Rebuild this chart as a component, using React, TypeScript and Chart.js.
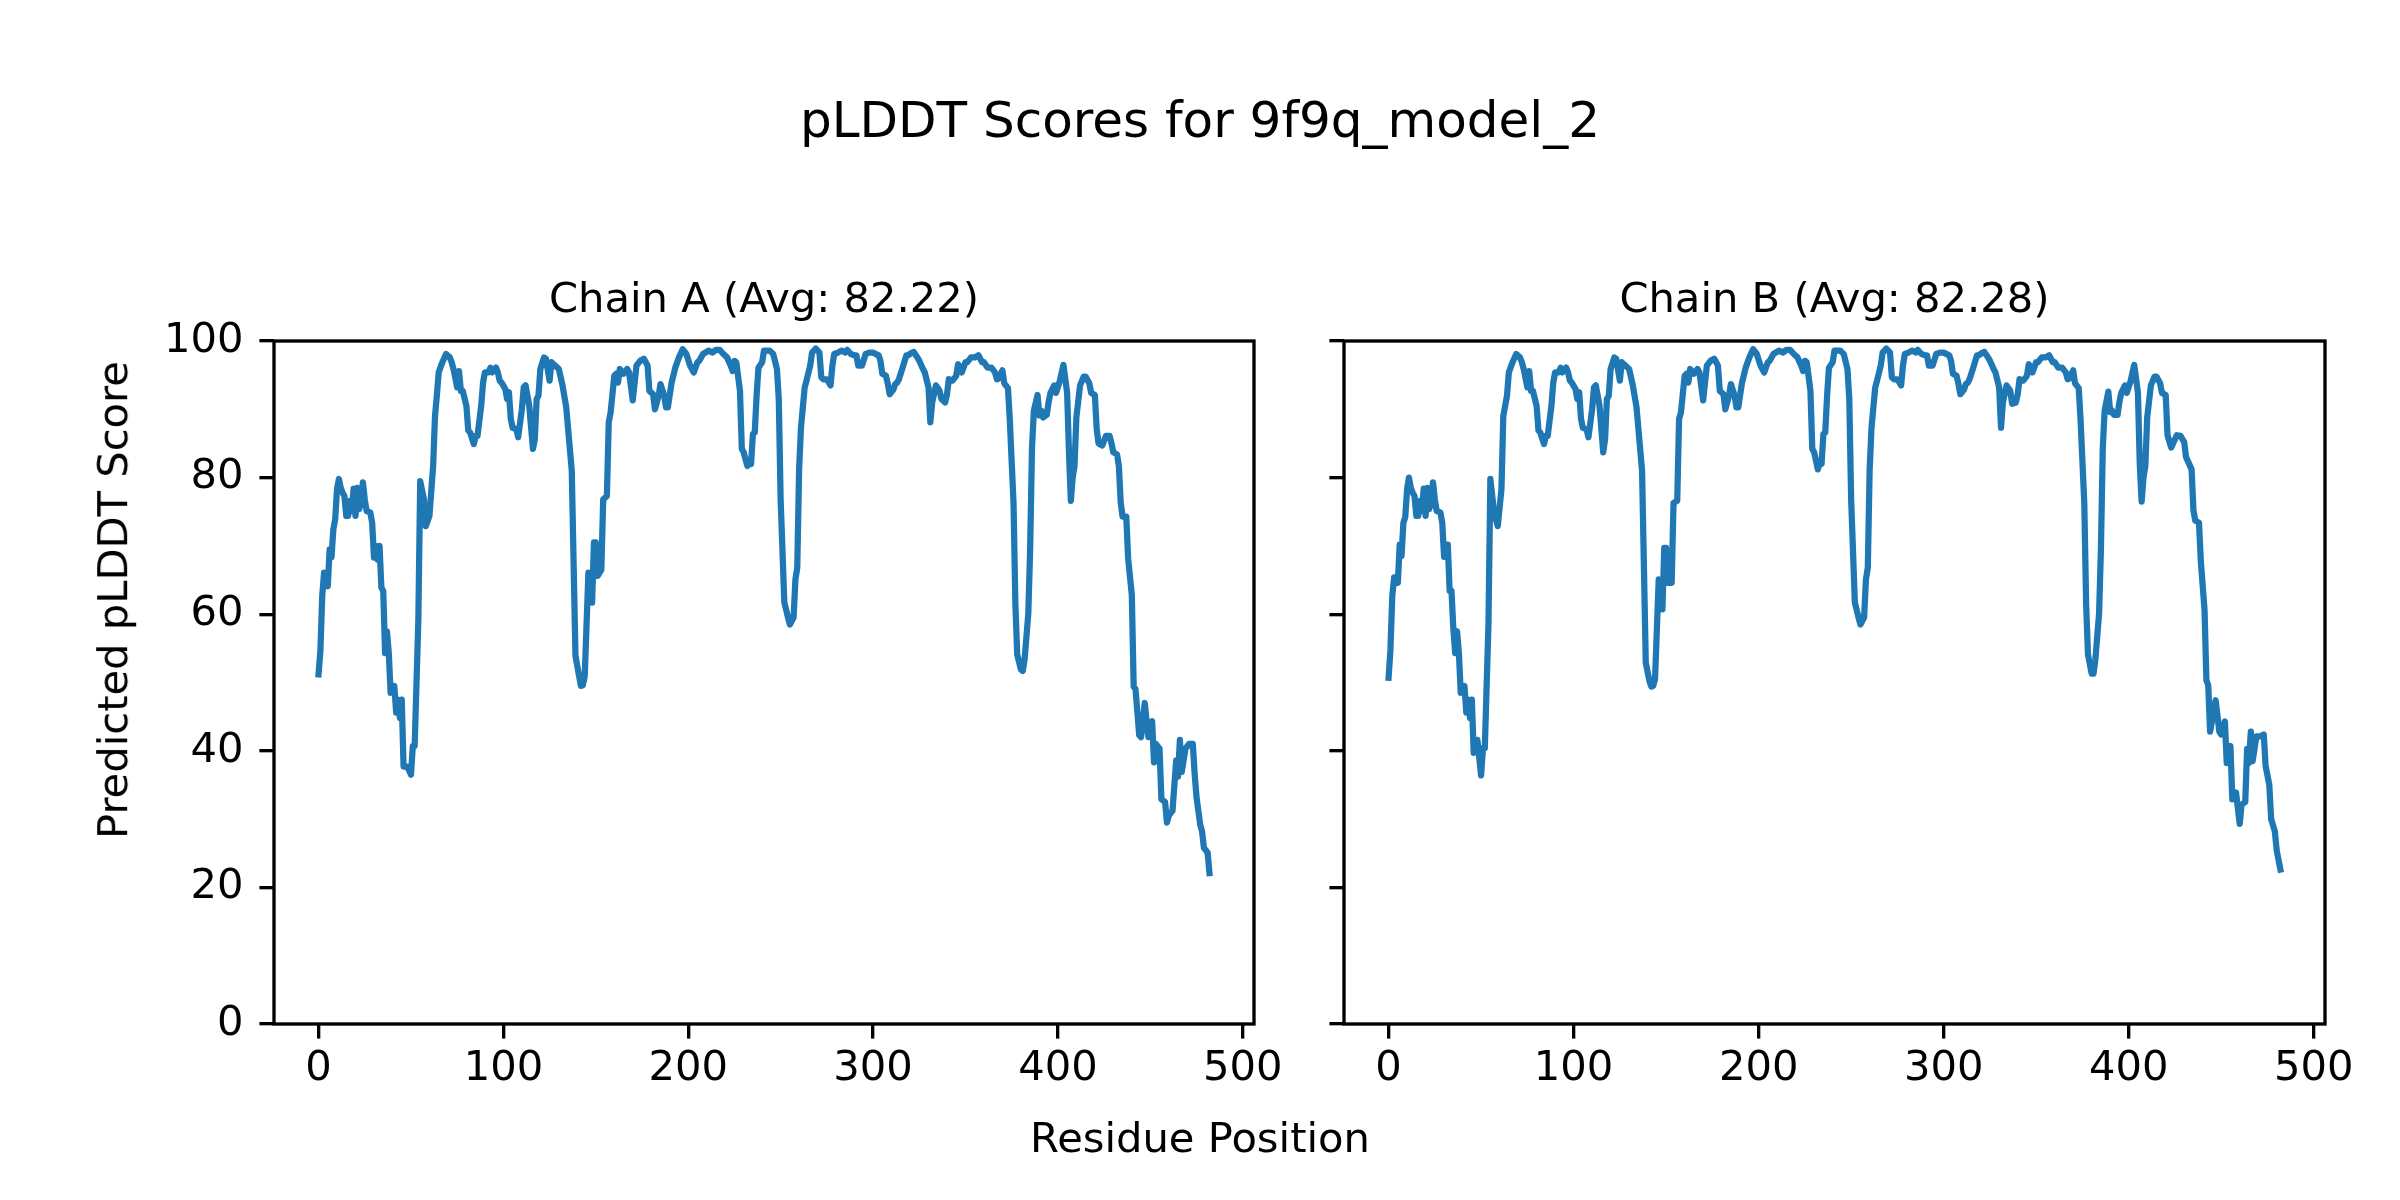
import React, { useEffect, useRef } from "react";
import { Chart, registerables } from "chart.js";

Chart.register(...registerables);

const FIG_TITLE = "pLDDT Scores for 9f9q_model_2";
const X_LABEL = "Residue Position";
const Y_LABEL = "Predicted pLDDT Score";
const CHAIN_TITLES = ["Chain A (Avg: 82.22)", "Chain B (Avg: 82.28)"];
const X_TICKS = [0, 100, 200, 300, 400, 500];
const Y_TICKS = [0, 20, 40, 60, 80, 100];
const X_RANGE = [-24.1, 506.1];
const Y_RANGE = [0, 100];

// [residue position, pLDDT score]
const chainA: [number, number][] = [
  [0, 51.2], [1, 54.6], [2, 62.7], [3, 66.1], [4, 64.5], [5, 64.1], [6, 69.5], [7, 68.3], [8, 72.4], [9, 73.9],
  [10, 78.3], [11, 79.8], [12, 78.5], [13, 77.8], [14, 77.3], [15, 74.4], [16, 74.4], [17, 76.6], [18, 75.1], [19, 78.4],
  [20, 74.4], [21, 78.5], [22, 75.4], [23, 76.6], [24, 79.3], [25, 76.8], [26, 75.1], [28, 74.9], [29, 73.4], [30, 68.3],
  [31, 70.0], [32, 68.0], [33, 70.0], [34, 63.9], [35, 63.4], [36, 54.3], [37, 57.5], [38, 54.3], [39, 48.5], [41, 49.5],
  [42, 45.6], [43, 47.5], [44, 44.8], [45, 47.5], [46, 37.7], [48, 37.7], [50, 36.5], [51, 40.7], [52, 40.7], [54, 59.2],
  [55, 79.5], [57, 76.8], [58, 72.9], [60, 74.4], [62, 81.7], [63, 89.0], [64, 92.0], [65, 95.4], [67, 96.9], [69, 98.1],
  [71, 97.6], [72, 96.9], [73, 95.9], [75, 93.2], [76, 95.6], [77, 92.7], [78, 92.7], [80, 90.5], [81, 86.9], [82, 86.6],
  [84, 84.9], [85, 86.1], [86, 86.1], [88, 90.5], [89, 93.9], [90, 95.4], [92, 95.4], [93, 96.1], [94, 95.4], [96, 96.1],
  [97, 95.4], [98, 94.2], [99, 93.9], [101, 93.0], [102, 91.5], [103, 92.5], [104, 88.6], [105, 87.3], [107, 87.1], [108, 85.9],
  [110, 90.0], [111, 93.2], [112, 93.5], [114, 90.5], [116, 84.2], [117, 85.6], [118, 91.5], [119, 92.0], [120, 95.9], [122, 97.6],
  [123, 97.4], [125, 94.2], [126, 96.9], [128, 96.4], [130, 95.9], [132, 93.5], [134, 90.3], [137, 81.0], [139, 53.9], [141, 50.9],
  [142, 49.5], [143, 49.6], [144, 50.9], [146, 66.1], [148, 61.7], [149, 70.5], [150, 70.5], [151, 65.6], [153, 66.5], [154, 76.8],
  [156, 77.3], [157, 88.1], [158, 89.5], [160, 94.9], [161, 95.2], [162, 93.9], [163, 95.9], [165, 95.2], [167, 95.9], [168, 95.4],
  [170, 91.3], [172, 96.4], [174, 97.1], [176, 97.4], [178, 96.4], [179, 92.7], [181, 92.2], [182, 90.0], [184, 92.0], [185, 93.7],
  [187, 92.0], [188, 90.3], [189, 90.3], [191, 93.9], [193, 96.1], [195, 97.6], [197, 98.8], [199, 98.1], [201, 96.4], [203, 95.4],
  [205, 96.9], [206, 97.1], [208, 98.1], [211, 98.6], [213, 98.3], [215, 98.7], [217, 98.7], [219, 98.1], [221, 97.6], [223, 96.4],
  [224, 95.6], [225, 97.1], [226, 96.9], [228, 92.7], [229, 84.2], [230, 83.7], [232, 81.7], [233, 82.5], [234, 82.0], [235, 86.4],
  [236, 86.6], [237, 92.0], [238, 96.1], [240, 96.9], [241, 98.6], [244, 98.6], [246, 98.1], [248, 95.9], [249, 91.5], [250, 76.8],
  [252, 61.7], [254, 59.5], [255, 58.5], [256, 59.0], [257, 59.5], [258, 65.1], [259, 66.8], [260, 81.2], [261, 87.3], [263, 93.2],
  [264, 94.2], [266, 96.4], [267, 98.3], [269, 98.9], [271, 98.3], [272, 94.7], [273, 94.4], [275, 94.4], [277, 93.5], [278, 96.4],
  [279, 98.1], [281, 98.3], [283, 98.6], [285, 98.3], [286, 98.7], [288, 98.1], [290, 97.9], [291, 97.9], [292, 96.4], [294, 96.4],
  [296, 98.1], [298, 98.3], [300, 98.3], [303, 97.9], [304, 97.1], [305, 95.2], [307, 94.9], [308, 93.7], [309, 92.2], [311, 92.9],
  [312, 93.7], [313, 93.9], [314, 94.4], [316, 96.1], [318, 97.9], [319, 97.9], [321, 98.3], [322, 98.4], [324, 97.6], [325, 97.1],
  [327, 95.9], [328, 95.4], [330, 93.2], [331, 88.1], [332, 91.0], [334, 93.5], [336, 92.7], [337, 91.5], [339, 91.0], [340, 92.2],
  [341, 94.4], [343, 94.2], [345, 94.9], [346, 96.6], [348, 95.4], [350, 96.9], [351, 96.9], [353, 97.6], [355, 97.6], [357, 97.9],
  [359, 96.9], [360, 96.9], [362, 96.1], [364, 96.1], [366, 95.4], [367, 94.4], [368, 94.5], [370, 95.7], [371, 93.8], [373, 93.1],
  [374, 88.4], [376, 76.3], [377, 61.5], [378, 54.1], [380, 51.9], [381, 51.7], [382, 53.4], [384, 60.1], [385, 69.6], [386, 84.4],
  [387, 89.8], [389, 92.1], [390, 89.1], [391, 89.8], [392, 88.8], [394, 89.2], [395, 91.1], [396, 92.4], [398, 93.5], [399, 92.4],
  [401, 94.1], [403, 96.5], [404, 94.5], [405, 92.4], [406, 83.7], [407, 76.6], [408, 80.0], [409, 81.7], [410, 88.8], [412, 93.5],
  [414, 94.8], [415, 94.8], [417, 93.8], [418, 92.4], [420, 92.1], [421, 87.1], [422, 85.0], [424, 84.7], [426, 86.1], [428, 86.1],
  [429, 85.0], [430, 83.7], [432, 83.4], [433, 81.7], [434, 76.3], [435, 74.3], [437, 74.3], [438, 68.2], [440, 62.8], [441, 49.4],
  [442, 49.0], [444, 42.3], [445, 42.0], [447, 47.0], [448, 44.3], [449, 42.0], [450, 44.0], [451, 44.3], [452, 38.3], [453, 41.0],
  [455, 40.3], [456, 32.9], [458, 32.5], [459, 29.5], [460, 30.5], [462, 31.2], [464, 38.6], [465, 36.2], [466, 41.6], [467, 36.9],
  [469, 40.3], [471, 41.0], [473, 41.0], [474, 36.6], [475, 33.2], [477, 29.2], [478, 28.2], [479, 25.8], [481, 25.1], [482, 22.1],
];

const chainB: [number, number][] = [
  [0, 50.7], [1, 54.8], [2, 62.7], [3, 65.4], [4, 64.9], [5, 64.6], [6, 70.2], [7, 68.5], [8, 73.4], [9, 74.2],
  [10, 78.3], [11, 80.0], [12, 78.5], [13, 77.8], [14, 77.3], [15, 74.4], [16, 74.4], [17, 76.6], [18, 75.1], [19, 78.4],
  [20, 74.4], [21, 78.5], [22, 75.4], [23, 76.6], [24, 79.3], [25, 76.8], [26, 75.1], [28, 74.9], [29, 73.4], [30, 68.4],
  [31, 70.2], [32, 70.2], [33, 63.4], [34, 63.4], [35, 57.9], [36, 54.3], [37, 57.5], [38, 54.3], [39, 48.5], [41, 49.5],
  [42, 45.6], [43, 47.5], [44, 44.8], [45, 47.5], [46, 39.7], [48, 41.6], [50, 36.4], [51, 40.4], [52, 40.4], [54, 58.8],
  [55, 79.8], [57, 74.9], [59, 72.9], [61, 78.3], [62, 89.0], [64, 92.0], [65, 95.4], [67, 96.9], [69, 98.1],
  [71, 97.6], [72, 96.9], [73, 95.9], [75, 93.2], [76, 95.6], [77, 92.7], [78, 92.7], [80, 90.5], [81, 86.9], [82, 86.6],
  [84, 84.9], [85, 86.1], [86, 86.1], [88, 90.5], [89, 93.9], [90, 95.4], [92, 95.4], [93, 96.1], [94, 95.4], [96, 96.1],
  [97, 95.4], [98, 94.2], [99, 93.9], [101, 93.0], [102, 91.5], [103, 92.5], [104, 88.6], [105, 87.3], [107, 87.1], [108, 85.9],
  [110, 90.0], [111, 93.2], [112, 93.5], [114, 90.5], [116, 83.7], [117, 85.6], [118, 91.5], [119, 92.0], [120, 95.9], [122, 97.6],
  [123, 97.4], [125, 94.2], [126, 96.9], [128, 96.4], [130, 95.9], [132, 93.5], [134, 90.3], [137, 81.0], [139, 52.9], [141, 50.2],
  [142, 49.4], [143, 49.5], [144, 50.5], [146, 65.1], [148, 60.7], [149, 69.7], [150, 69.7], [151, 64.6], [153, 64.6], [154, 76.3],
  [156, 76.6], [157, 88.6], [158, 89.5], [160, 94.9], [161, 95.2], [162, 93.9], [163, 95.9], [165, 95.2], [167, 95.9], [168, 95.4],
  [170, 91.3], [172, 96.4], [174, 97.1], [176, 97.4], [178, 96.4], [179, 92.7], [181, 92.2], [182, 90.0], [184, 92.0], [185, 93.7],
  [187, 92.0], [188, 90.3], [189, 90.3], [191, 93.9], [193, 96.1], [195, 97.6], [197, 98.8], [199, 98.1], [201, 96.4], [203, 95.4],
  [205, 96.9], [206, 97.1], [208, 98.1], [211, 98.6], [213, 98.3], [215, 98.7], [217, 98.7], [219, 98.1], [221, 97.6], [223, 96.4],
  [224, 95.6], [225, 97.1], [226, 96.9], [228, 92.7], [229, 84.2], [230, 83.7], [232, 81.2], [233, 82.2], [234, 82.0], [235, 86.4],
  [236, 86.6], [237, 92.0], [238, 96.1], [240, 96.9], [241, 98.6], [244, 98.6], [246, 98.1], [248, 95.9], [249, 91.5], [250, 76.8],
  [252, 61.7], [254, 59.5], [255, 58.5], [256, 59.0], [257, 59.5], [258, 65.1], [259, 66.8], [260, 81.2], [261, 87.3], [263, 93.2],
  [264, 94.2], [266, 96.4], [267, 98.3], [269, 98.9], [271, 98.3], [272, 94.7], [273, 94.4], [275, 94.4], [277, 93.5], [278, 96.4],
  [279, 98.1], [281, 98.3], [283, 98.6], [285, 98.3], [286, 98.7], [288, 98.1], [290, 97.9], [291, 97.9], [292, 96.4], [294, 96.4],
  [296, 98.1], [298, 98.3], [300, 98.3], [303, 97.9], [304, 97.1], [305, 95.2], [307, 94.9], [308, 93.7], [309, 92.2], [311, 92.9],
  [312, 93.7], [313, 93.9], [314, 94.4], [316, 96.1], [318, 97.9], [319, 97.9], [321, 98.3], [322, 98.4], [324, 97.6], [325, 97.1],
  [327, 95.9], [328, 95.4], [330, 93.2], [331, 87.3], [332, 91.0], [334, 93.5], [336, 92.7], [337, 90.8], [339, 91.0], [340, 92.2],
  [341, 94.4], [343, 94.2], [345, 94.9], [346, 96.6], [348, 95.4], [350, 96.9], [351, 96.9], [353, 97.6], [355, 97.6], [357, 97.9],
  [359, 96.9], [360, 96.9], [362, 96.1], [364, 96.1], [366, 95.4], [367, 94.4], [368, 94.5], [370, 95.7], [371, 93.8], [373, 93.1],
  [374, 88.4], [376, 76.3], [377, 61.5], [378, 54.1], [380, 51.3], [381, 51.3], [382, 53.4], [384, 60.1], [385, 69.6], [386, 84.4],
  [387, 89.8], [389, 92.6], [390, 89.6], [391, 89.8], [392, 89.2], [394, 89.2], [395, 91.1], [396, 92.4], [398, 93.5], [399, 92.4],
  [401, 94.1], [403, 96.5], [404, 94.5], [405, 92.4], [406, 81.9], [407, 76.5], [408, 80.0], [409, 81.7], [410, 88.8], [412, 93.5],
  [414, 94.8], [415, 94.8], [417, 93.8], [418, 92.4], [420, 92.1], [421, 86.2], [423, 84.4], [426, 86.2], [428, 86.1],
  [430, 85.2], [431, 83.0], [434, 81.2], [435, 75.2], [436, 73.7], [438, 73.4], [439, 67.7], [441, 60.6], [442, 50.3],
  [443, 49.6], [444, 42.8], [447, 47.4], [449, 42.8], [450, 42.4], [452, 44.3], [453, 38.2],
  [455, 40.7], [456, 32.9], [458, 33.9], [460, 29.3], [461, 32.1], [463, 32.5], [464, 40.3], [465, 38.2], [466, 42.8], [467, 38.5],
  [469, 42.1], [471, 42.1], [473, 42.4], [474, 37.8], [476, 35.0], [477, 30.0], [479, 28.2], [480, 25.4], [482, 22.6],
];

const FONT = "'DejaVu Sans', 'Noto Sans', sans-serif";
const LINE_COLOR = "#1f77b4";
const TICK_FONT_PX = 41.67;
const SPINE_W = 3.33;
const TICK_LEN = 14.6;

const spineBox = {
  id: "spineBox",
  afterDraw(chart: any) {
    const { ctx, chartArea: a } = chart;
    ctx.save();
    ctx.strokeStyle = "#000";
    ctx.lineWidth = SPINE_W;
    ctx.strokeRect(a.left, a.top, a.right - a.left, a.bottom - a.top);
    ctx.restore();
  },
};

type PanelProps = {
  series: [number, number][];
  title: string;
  showYLabels: boolean;
  width: number;
  yAxisWidth: number;
  padRight: number;
  left: number;
};

function Panel({ series, title, showYLabels, width, yAxisWidth, padRight, left }: PanelProps) {
  const ref = useRef<HTMLCanvasElement>(null);
  useEffect(() => {
    const grid = {
      display: true,
      drawOnChartArea: false,
      drawTicks: true,
      tickLength: TICK_LEN,
      tickWidth: SPINE_W,
      tickColor: "#000",
      color: "#000",
      lineWidth: SPINE_W,
    };
    const tickFont = { family: FONT, size: TICK_FONT_PX, weight: "normal" as const, lineHeight: 1.2 };
    const chart = new Chart(ref.current as HTMLCanvasElement, {
      type: "line",
      data: {
        datasets: [
          {
            data: series.map(([x, y]) => ({ x, y })),
            borderColor: LINE_COLOR,
            borderWidth: 6.25,
            pointRadius: 0,
            pointHoverRadius: 0,
            tension: 0,
            fill: false,
            borderJoinStyle: "round",
            borderCapStyle: "square",
          },
        ],
      },
      options: {
        responsive: false,
        animation: false,
        devicePixelRatio: 1,
        events: [],
        layout: { padding: { left: 0, right: padRight, top: 0, bottom: 0 } },
        plugins: {
          legend: { display: false },
          tooltip: { enabled: false },
          title: {
            display: true,
            text: title,
            color: "#000",
            fullSize: false,
            align: "center",
            font: { family: FONT, size: TICK_FONT_PX, weight: "normal", lineHeight: 1.2 },
            padding: { top: 276.5, bottom: 14.5 },
          },
        },
        scales: {
          x: {
            type: "linear",
            min: X_RANGE[0],
            max: X_RANGE[1],
            afterBuildTicks: (s: any) => {
              s.ticks = X_TICKS.map((v) => ({ value: v }));
            },
            afterFit: (s: any) => {
              s.height = 176;
            },
            grid,
            border: { display: false },
            ticks: {
              color: "#000",
              font: tickFont,
              padding: 6,
              maxRotation: 0,
              minRotation: 0,
              autoSkip: false,
              callback: (v: any) => String(v),
            },
          },
          y: {
            type: "linear",
            min: Y_RANGE[0],
            max: Y_RANGE[1],
            afterBuildTicks: (s: any) => {
              s.ticks = Y_TICKS.map((v) => ({ value: v }));
            },
            afterFit: (s: any) => {
              s.width = yAxisWidth;
            },
            grid,
            border: { display: false },
            ticks: {
              color: "#000",
              font: tickFont,
              padding: 16,
              autoSkip: false,
              callback: (v: any) => (showYLabels ? String(v) : ""),
            },
          },
        },
      },
      plugins: [spineBox],
    });
    return () => chart.destroy();
  }, []);
  return (
    <canvas
      ref={ref}
      width={width}
      height={1200}
      style={{ position: "absolute", left, top: 0, width, height: 1200, display: "block" }}
    />
  );
}

export default function App() {
  const textBase: React.CSSProperties = {
    position: "absolute",
    fontFamily: FONT,
    color: "#000",
    whiteSpace: "nowrap",
    lineHeight: 1,
  };
  return (
    <div
      style={{
        position: "absolute",
        left: 0,
        top: 0,
        width: 2400,
        height: 1200,
        background: "#fff",
        overflow: "hidden",
      }}
    >
      <Panel series={chainA} title={CHAIN_TITLES[0]} showYLabels={true} width={1300} yAxisWidth={274} padRight={46} left={0} />
      <Panel series={chainB} title={CHAIN_TITLES[1]} showYLabels={false} width={1100} yAxisWidth={44} padRight={75} left={1300} />
      <div style={{ ...textBase, left: 1200, top: 94.7, fontSize: 50, transform: "translateX(-50%)" }}>{FIG_TITLE}</div>
      <div style={{ ...textBase, left: 1200, top: 1116.75, fontSize: TICK_FONT_PX, transform: "translateX(-50%)" }}>{X_LABEL}</div>
      <div
        style={{
          ...textBase,
          left: 112.6,
          top: 600,
          fontSize: TICK_FONT_PX,
          transform: "translate(-50%, -50%) rotate(-90deg)",
        }}
      >
        {Y_LABEL}
      </div>
    </div>
  );
}
